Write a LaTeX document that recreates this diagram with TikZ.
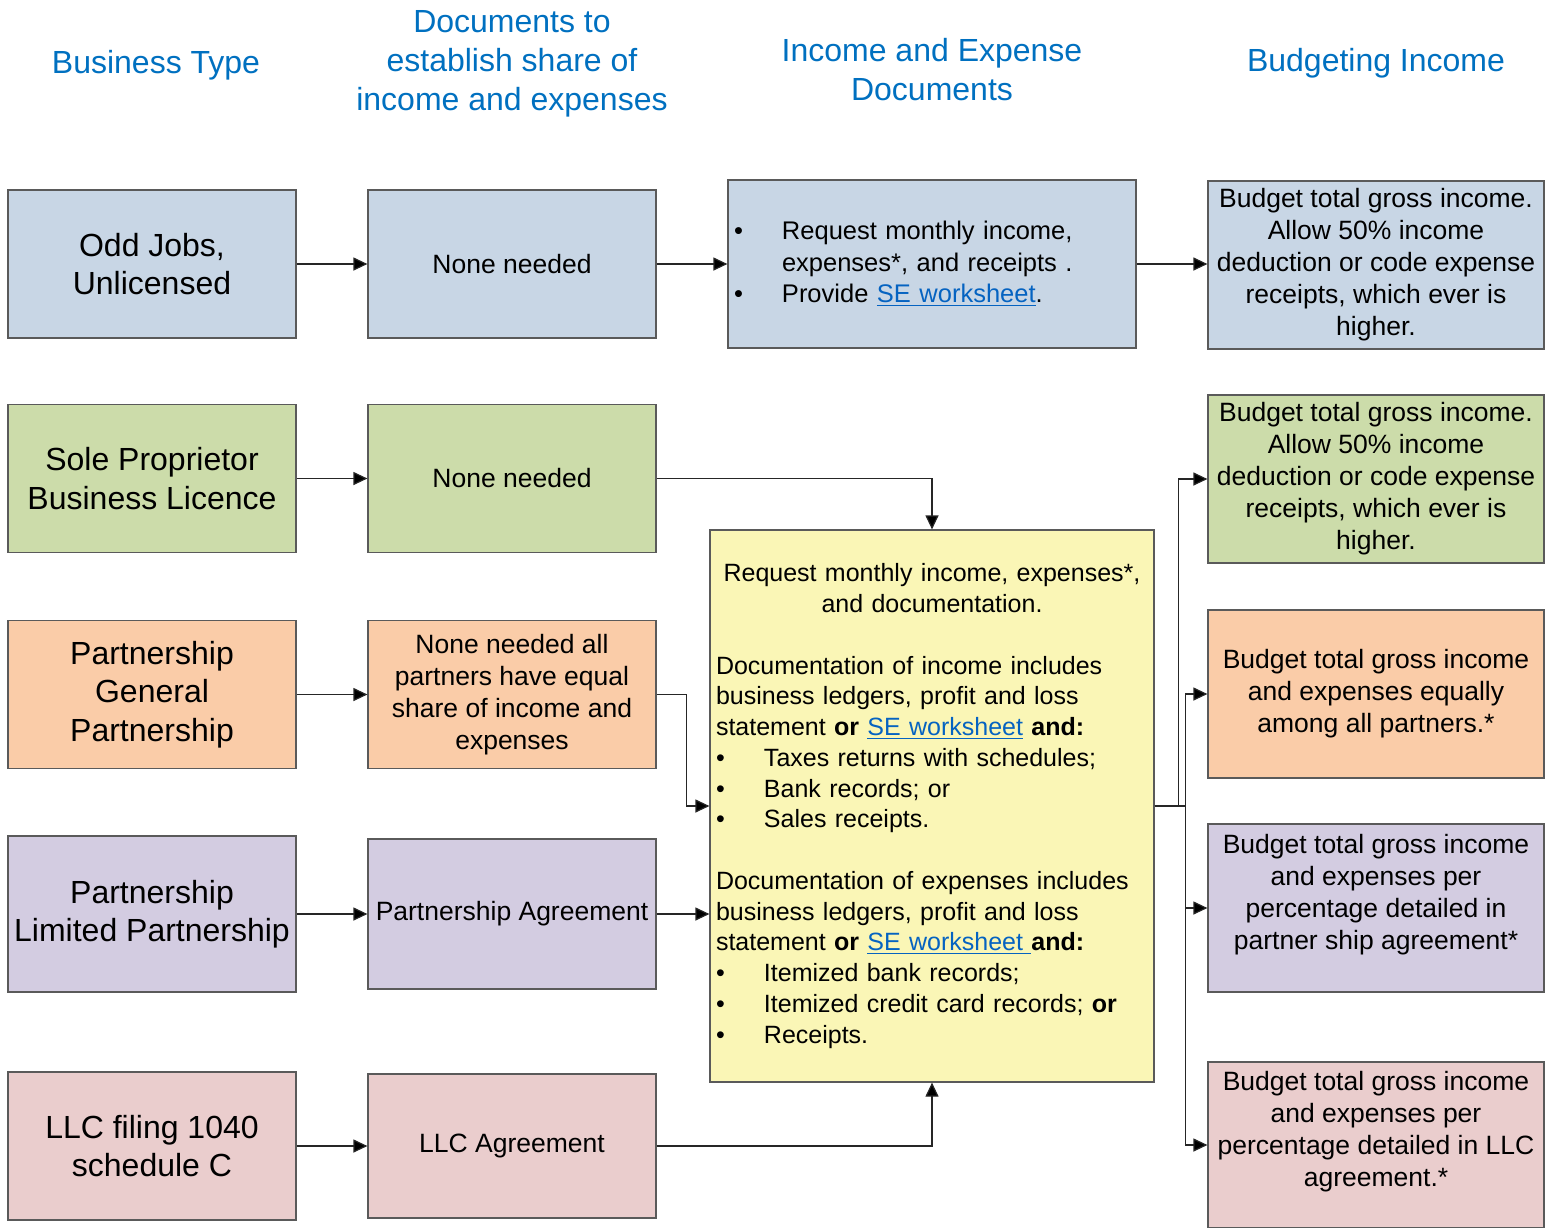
\documentclass[tikz,border=0pt]{standalone}
\usepackage{fontspec}
\setmainfont{Liberation Sans}
\usepackage{xcolor}
\usetikzlibrary{arrows.meta, positioning}
\definecolor{headblue}{RGB}{0,112,192}
\definecolor{linkblue}{RGB}{5,99,193}
\definecolor{boxgray}{RGB}{90,90,90}
\definecolor{oddblue}{RGB}{200,214,229}
\definecolor{solegreen}{RGB}{204,220,170}
\definecolor{genorange}{RGB}{250,204,168}
\definecolor{limpurple}{RGB}{211,204,225}
\definecolor{llcpink}{RGB}{234,205,205}
\definecolor{docyellow}{RGB}{250,246,182}
\tikzset{box/.style={draw=boxgray, line width=1.2pt, minimum width=288pt, minimum height=148pt, align=center, inner sep=0pt, font=\fontsize{26.5}{32}\selectfont},
typebox/.style={box, font=\fontsize{32}{38.5}\selectfont},
incomebox/.style={box, minimum width=336pt, minimum height=168pt},
head/.style={text=headblue, align=center, font=\fontsize{32}{39}\selectfont},
%arrow used for every connector
link/.style={-{Triangle[length=14pt,width=13pt,fill=black]}, line width=1.2pt, draw=black!85}}
\newcommand{\selink}[1]{{\color{linkblue}\setbox0\hbox{#1}\rlap{\rule[-3.5pt]{\wd0}{1.3pt}}\box0}}
\newcommand{\bul}{\makebox[48pt][l]{\textbullet}}

\begin{document}
\begin{tikzpicture}[x=1pt,y=-1pt]
 \useasboundingbox (0,0) rectangle (1556,1227);

 %Drawing Column Headings
 \node (typehead) [head] at (156,65) {Business Type};
 \node (sharehead) [head] at (512,64) {Documents to\\establish share of\\income and expenses};
 \node (docshead) [head] at (932,70) {Income and Expense\\Documents};
 \node (budgethead) [head] at (1376,63) {Budgeting Income};

 %Drawing Business Types
 \node (oddjobs) [typebox, fill=oddblue] at (152,264) {Odd Jobs,\\Unlicensed};
 \node (sole) [typebox, fill=solegreen] at (152,478.5) {Sole Proprietor\\Business Licence};
 \node (general) [typebox, fill=genorange] at (152,694.5) {Partnership\\General\\Partnership};
 \node (limited) [typebox, fill=limpurple, minimum height=156pt] at (152,914) {Partnership\\Limited Partnership};
 \node (llc) [typebox, fill=llcpink] at (152,1146) {LLC filing 1040\\schedule C};

 %Drawing Share Documents
 \node (oddneed) [box, fill=oddblue] at (512,264) {None needed};
 \node (soleneed) [box, fill=solegreen] at (512,478.5) {None needed};
 \node (genneed) [box, fill=genorange] at (512,694.5) {None needed all\\partners have equal\\share of income and\\expenses};
 \node (limneed) [box, fill=limpurple, minimum height=150pt] at (512,914) {Partnership Agreement};
 \node (llcneed) [box, fill=llcpink, minimum height=144pt] at (512,1146) {LLC Agreement};

 %Drawing Income and Expense Documents
 \node (odddocs) [box, fill=oddblue, minimum width=408pt, minimum height=168pt, text width=396pt, inner xsep=6pt, align=left, font=\fontsize{25.5}{31.5}\selectfont] at (932,264)
 {\bul Request monthly income,\\\hspace*{48pt}expenses*, and receipts .\\\bul Provide \selink{SE worksheet}.};
 \node (docs) [box, fill=docyellow, minimum width=444pt, minimum height=552pt, text width=432pt, inner xsep=6pt, align=left, font=\fontsize{25}{30.75}\selectfont] at (932,806)
 {\makebox[432pt][c]{Request monthly income, expenses*,}\\
  \makebox[432pt][c]{and documentation.}\\[30.75pt]
  Documentation of income includes\\
  business ledgers, profit and loss\\
  statement \textbf{or} \selink{SE worksheet} \textbf{and:}\\
  \bul Taxes returns with schedules;\\
  \bul Bank records; or\\
  \bul Sales receipts.\\[30.75pt]
  Documentation of expenses includes\\
  business ledgers, profit and loss\\
  statement \textbf{or} \selink{SE worksheet }\textbf{and:}\\
  \bul Itemized bank records;\\
  \bul Itemized credit card records; \textbf{or}\\
  \bul Receipts.};

 %Drawing Budgeting Income
 \node (oddincome) [incomebox, fill=oddblue] at (1376,265) {Budget total gross income.\\Allow 50\% income\\deduction or code expense\\receipts, which ever is\\higher.};
 \node (soleincome) [incomebox, fill=solegreen] at (1376,479) {Budget total gross income.\\Allow 50\% income\\deduction or code expense\\receipts, which ever is\\higher.};
 \node (genincome) [incomebox, fill=genorange] at (1376,694) {Budget total gross income\\and expenses equally\\among all partners.*};
 \node (limincome) [incomebox, fill=limpurple] at (1376,908) {Budget total gross income\\and expenses per\\percentage detailed in\\partner ship agreement*\\~};
 \node (llcincome) [incomebox, fill=llcpink, minimum height=166pt] at (1376,1145) {Budget total gross income\\and expenses per\\percentage detailed in LLC\\agreement.*\\~};

 %Drawing Connectors
 \draw[link] (oddjobs) -- (oddneed);
 \draw[link] (sole) -- (soleneed);
 \draw[link] (general) -- (genneed);
 \draw[link] (limited) -- (limneed);
 \draw[link] (llc) -- (llcneed);

 \draw[link] (oddneed) -- (odddocs);
 \draw[link] (odddocs) -- (oddincome.west |- odddocs);
 \draw[link] (soleneed.east) -| (docs.north);
 \draw[link] (genneed.east) -- ++(30,0) |- (docs.west);
 \draw[link] (limneed.east) -- (docs.west |- limneed.east);
 \draw[link] (llcneed.east) -| (docs.south);

 \draw[link] (docs.east) -- ++(24,0) |- (soleincome.west);
 \draw[link] (docs.east) -- ++(31,0) |- (genincome.west);
 \draw[link] (docs.east) -- ++(31,0) |- (limincome.west);
 \draw[link] (docs.east) -- ++(31,0) |- (llcincome.west);

\end{tikzpicture}
\end{document}
